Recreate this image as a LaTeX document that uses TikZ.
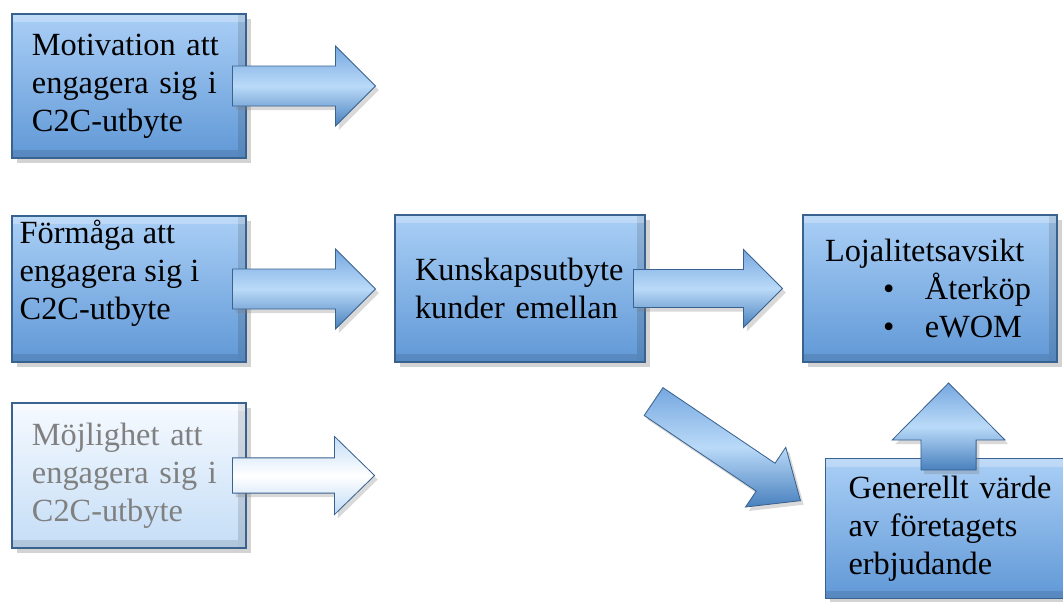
\documentclass[tikz,border=0pt]{standalone}
\usepackage{fontspec}
\setmainfont{Liberation Serif}
\usetikzlibrary{shadows}
\definecolor{boxtop}{RGB}{170,207,246}
\definecolor{boxbot}{RGB}{96,152,214}
\definecolor{boxedge}{RGB}{58,98,142}
\definecolor{paletop}{RGB}{246,250,255}
\definecolor{palebot}{RGB}{196,221,246}
\definecolor{paletext}{RGB}{128,128,128}
\definecolor{arrtop}{RGB}{118,168,224}
\definecolor{arrmid}{RGB}{186,218,248}
\definecolor{arrbot}{RGB}{72,128,190}

\tikzset{
  bevel/.style={path picture={
    \draw[black, opacity=0.12, line width=0.2cm]
      ([shift={(-0.1,0)}]path picture bounding box.north east) --
      ([shift={(-0.1,0)}]path picture bounding box.south east);
    \draw[black, opacity=0.10, line width=0.2cm]
      ([shift={(0,0.1)}]path picture bounding box.south west) --
      ([shift={(-0.2,0.1)}]path picture bounding box.south east);
    \draw[white, opacity=0.25, line width=0.2cm]
      ([shift={(0,-0.1)}]path picture bounding box.north west) --
      ([shift={(0,-0.1)}]path picture bounding box.north east);
  }},
  box/.style={rectangle, draw=boxedge, line width=0.8pt,
    top color=boxtop, bottom color=boxbot, bevel,
    drop shadow={shadow xshift=0.12cm, shadow yshift=-0.12cm, opacity=0.35},
    align=left, font=\fontsize{23}{27}\selectfont, inner xsep=0.5cm},
  palebox/.style={box, top color=paletop, bottom color=palebot, text=paletext},
  boxtext/.style={align=left, font=\fontsize{23}{27}\selectfont, inner sep=0pt},
  arrowbody/.style={draw=boxedge, line width=0.6pt,
    top color=arrtop, bottom color=arrbot, middle color=arrmid,
    drop shadow={shadow xshift=0.08cm, shadow yshift=-0.1cm, opacity=0.3}},
  palearrow/.style={draw=boxedge, line width=0.6pt,
    top color=palebot, bottom color=palebot!80!boxtop, middle color=white,
    drop shadow={shadow xshift=0.08cm, shadow yshift=-0.1cm, opacity=0.3}},
  % length, half shaft, half head, head length
  pics/blockarrow/.style n args={4}{code={
    \path[arrowbody] (0,-#2) -- ({#1-#4},-#2) -- ({#1-#4},-#3) -- (#1,0)
      -- ({#1-#4},#3) -- ({#1-#4},#2) -- (0,#2) -- cycle;
  }},
}

\begin{document}
\begin{tikzpicture}
\useasboundingbox (0,0) rectangle (26.575,-15.025);
%left column
\node[box, minimum width=5.85cm, minimum height=3.6cm, text width=4.85cm] (mot) at (3.225,-2.15)
  {Motivation att\\engagera sig i\\C2C-utbyte};
\node[box, minimum width=5.85cm, minimum height=3.65cm] (form) at (3.225,-7.225) {};
\node[boxtext, anchor=west] (formtext) at ([xshift=0.2cm,yshift=0.4cm]form.west)
  {Förmåga att\\engagera sig i\\C2C-utbyte};
\node[palebox, minimum width=5.85cm, minimum height=3.625cm, text width=4.85cm] (moj) at (3.225,-11.8875)
  {Möjlighet att\\engagera sig i\\C2C-utbyte};
%middle and right
\node[box, minimum width=6.25cm, minimum height=3.675cm, text width=5.25cm] (kun) at (13.0,-7.2125)
  {Kunskapsutbyte\\kunder emellan};
\node[box, minimum width=6.35cm, minimum height=3.675cm, inner xsep=0.55cm, text width=5.25cm] (loj) at (23.25,-7.2125)
  {Lojalitetsavsikt\\
   \hspace*{1.45cm}\makebox[1.05cm][l]{\textbullet}Återköp\\
   \hspace*{1.45cm}\makebox[1.05cm][l]{\textbullet}eWOM};
\node[box, anchor=north west, minimum width=6.45cm, minimum height=3.5cm, inner xsep=0.575cm, text width=5.3cm] (gen) at (20.625,-11.45)
  {Generellt värde\\av företagets\\erbjudande};
%arrows
\pic at ([xshift=-0.35cm]mot.east) {blockarrow={3.575}{0.5}{1.0}{1.0}};
\pic at ([xshift=-0.35cm]form.east) {blockarrow={3.575}{0.5}{1.0}{1.0}};
\pic[arrowbody/.style={palearrow}] at ([xshift=-0.35cm]moj.east) {blockarrow={3.55}{0.44}{0.975}{1.0}};
\pic at ([xshift=-0.3cm]kun.east) {blockarrow={3.725}{0.475}{0.975}{0.975}};
\pic[rotate=-34] at ([xshift=0.2cm,yshift=-0.975cm]kun.south east) {blockarrow={4.43}{0.42}{0.9}{1.05}};
\pic[rotate=90] at ([xshift=-0.15cm,yshift=-0.3cm]gen.north) {blockarrow={2.175}{0.69}{1.41}{1.425}};
\end{tikzpicture}
\end{document}
